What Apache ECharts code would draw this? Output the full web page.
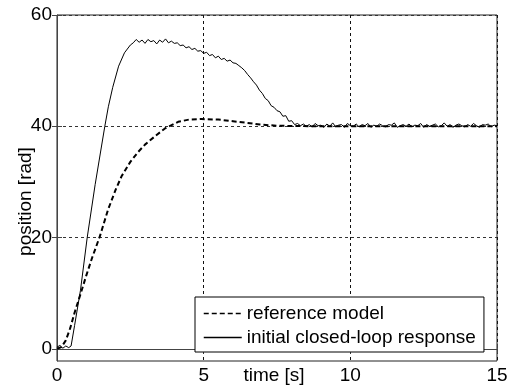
<!DOCTYPE html>
<html>
<head>
<meta charset="utf-8">
<script src="https://cdn.jsdelivr.net/npm/echarts@6/dist/echarts.min.js"></script>
<style>html,body{margin:0;padding:0;background:#fff;}#chart{width:511px;height:386px;}</style>
</head>
<body>
<div id="chart"></div>
<script>
// ---- data ----
const xTicks = [0, 5, 10, 15];
const yTicks = [0, 20, 40, 60];

const refTime = [0, 0.15, 0.3, 0.45, 0.6, 0.8, 1.0, 1.2, 1.46, 1.74, 2.0, 2.2, 2.5, 2.77, 3.0, 3.34, 3.68, 4.13, 4.5, 4.93, 5.5, 6.0, 6.5, 6.92, 7.5, 8.0, 9.0, 10.0, 11.0, 12.0, 13.0, 14.0, 15.0];
const refValue = [0, 0.3, 1.5, 3.7, 6.5, 9.8, 13.2, 16.4, 20.2, 25.0, 28.6, 31.0, 33.6, 35.4, 36.7, 38.2, 39.6, 40.8, 41.2, 41.3, 41.2, 40.9, 40.6, 40.3, 40.1, 40.05, 40, 40, 40, 40, 40, 40, 40];

const loopTime = [0, 0.1, 0.2, 0.3, 0.4, 0.48, 0.6, 0.8, 1.03, 1.3, 1.63, 1.75, 1.9, 2.1, 2.3, 2.5,
  2.6, 2.7, 2.8, 2.9, 3.0, 3.1, 3.2, 3.3, 3.4, 3.5, 3.6, 3.7, 3.8, 3.9, 4.0,
  4.1, 4.2, 4.3, 4.4, 4.5, 4.6, 4.7, 4.8, 4.9, 5.0, 5.1, 5.2, 5.3, 5.4, 5.5, 5.6, 5.7, 5.8, 5.9,
  6.0, 6.1, 6.2, 6.3, 6.4, 6.5, 6.6, 6.7, 6.8, 6.9, 7.0, 7.1, 7.2, 7.3, 7.4, 7.5, 7.6, 7.7, 7.8, 7.9,
  8.0, 8.1, 8.2, 8.3, 8.4, 8.5, 8.6, 8.7, 8.8, 8.9, 9.0, 9.1, 9.2, 9.3, 9.4, 9.5, 9.6, 9.7, 9.8, 9.9,
  10.0, 10.1, 10.2, 10.3, 10.4, 10.5, 10.6, 10.7, 10.8, 10.9, 11.0, 11.1, 11.2, 11.3, 11.4, 11.5, 11.6, 11.7, 11.8, 11.9,
  12.0, 12.1, 12.2, 12.3, 12.4, 12.5, 12.6, 12.7, 12.8, 12.9, 13.0, 13.1, 13.2, 13.3, 13.4, 13.5, 13.6, 13.7, 13.8, 13.9,
  14.0, 14.1, 14.2, 14.3, 14.4, 14.5, 14.6, 14.7, 14.8, 14.9, 15.0];
const loopValue = [0.3, 0.6, 0.1, 0.5, 0.2, 0.5, 4.2, 10.5, 20.0, 29.5, 40.0, 43.5, 47.0, 50.8, 53.2, 54.6,
  55.0, 55.6, 55.1, 55.5, 54.9, 55.6, 55.2, 55.4, 54.8, 55.5, 55.1, 55.7, 55.0, 55.3, 54.9,
  55.0, 54.5, 54.6, 54.1, 54.3, 53.8, 54.0, 53.5, 53.6, 53.1, 53.3, 52.7, 52.9, 52.3, 52.6, 52.0, 52.2, 51.7, 51.9,
  51.4, 51.3, 50.9, 50.5, 50.0, 49.3, 48.7, 48.0, 47.4, 46.5, 45.9, 45.0, 44.6, 43.7, 43.4, 42.8, 42.6, 41.8, 41.9, 40.9,
  41.0, 40.3, 40.5, 40.1, 40.4, 40.0, 40.3, 39.9, 40.5, 40.1, 40.2, 39.8, 40.4, 40.0, 40.6, 39.9, 40.2, 40.3, 39.8, 40.5,
  40.1, 40.0, 40.4, 39.9, 40.3, 40.1, 40.5, 39.8, 40.2, 40.0, 40.4, 40.1, 39.9, 40.3, 40.2, 40.6, 39.8, 40.1, 40.3, 40.0,
  40.4, 39.9, 40.2, 40.1, 40.5, 39.8, 40.3, 40.0, 40.2, 40.4, 39.9, 40.1, 40.6, 40.0, 40.3, 39.8, 40.2, 40.4, 40.1, 39.9,
  40.3, 40.0, 40.5, 40.1, 39.8, 40.3, 40.2, 40.4, 39.9, 40.2, 40.1];

const seriesNames = ['reference model', 'initial closed-loop response'];
const axisTitles = { x: 'time [s]', y: 'position [rad]' };

// ---- chart ----
const FONT = 'Liberation Sans, Arial, sans-serif';
const AX = '#444';
const chart = echarts.init(document.getElementById('chart'), null, { renderer: 'canvas' });
const pairs = (ts, vs) => ts.map((t, i) => [t, vs[i]]);

chart.setOption({
  animation: false,
  backgroundColor: '#fff',
  grid: { left: 57, right: 14, top: 15, bottom: 25, outerBoundsMode: 'none', containLabel: false,
    show: true, borderColor: '#222', borderWidth: 1, backgroundColor: 'transparent' },
  xAxis: [{
    type: 'value', min: xTicks[0], max: xTicks[xTicks.length - 1], interval: 5,
    axisLine: { lineStyle: { color: AX, width: 1 } },
    axisTick: { inside: true, length: 5, lineStyle: { color: AX } },
    axisLabel: { color: '#000', fontSize: 19, fontFamily: FONT, margin: 5 },
    splitLine: { show: true, lineStyle: { color: '#111', type: [3, 3], width: 1 } },
    name: axisTitles.x, nameLocation: 'middle', nameGap: 5, nameMoveOverlap: false,
    nameTextStyle: { color: '#000', fontSize: 19, fontFamily: FONT, padding: [0, 6, 0, 0] }
  }, {
    type: 'value', position: 'top', min: 0, max: 15, interval: 5,
    axisLine: { show: false }, axisTick: { inside: true, length: 5, lineStyle: { color: AX } },
    axisLabel: { show: false }, splitLine: { show: false }
  }],
  yAxis: [{
    type: 'value', min: -2.2, max: 60,
    axisLine: { show: true, lineStyle: { color: AX, width: 1 } },
    axisTick: { show: true, inside: true, length: 5, customValues: yTicks, lineStyle: { color: AX } },
    axisLabel: { color: '#000', fontSize: 19, fontFamily: FONT, margin: 5, customValues: yTicks },
    splitLine: { show: true, lineStyle: { color: '#333', type: [3, 3], width: 1 } },
    name: axisTitles.y, nameLocation: 'middle', nameGap: 22, nameRotate: 90, nameMoveOverlap: false,
    nameTextStyle: { color: '#000', fontSize: 19, fontFamily: FONT, padding: [0, 27, 0, 0] }
  }, {
    type: 'value', position: 'right', min: -2.2, max: 60,
    axisLine: { show: false },
    axisTick: { show: true, inside: true, length: 5, customValues: yTicks, lineStyle: { color: AX } },
    axisLabel: { show: false, customValues: yTicks }, splitLine: { show: false }
  }],
  legend: {
    orient: 'vertical', left: 195, top: 297,
    data: seriesNames,
    itemWidth: 38, itemHeight: 10, itemGap: 5,
    padding: [7, 8, 5, 8],
    backgroundColor: '#fff', borderColor: '#000', borderWidth: 1, borderRadius: 0,
    itemStyle: { opacity: 0 },
    lineStyle: { width: 1.5 },
    textStyle: { color: '#000', fontSize: 19, fontFamily: FONT },
    z: 10
  },
  series: [{
    name: seriesNames[0], type: 'line', data: pairs(refTime, refValue),
    showSymbol: false, symbol: 'none', smooth: false,
    lineStyle: { color: '#000', width: 2, type: [5, 3] },
    itemStyle: { color: '#000' }, z: 3
  }, {
    name: seriesNames[1], type: 'line', data: pairs(loopTime, loopValue),
    showSymbol: false, symbol: 'none', smooth: false,
    lineStyle: { color: '#000', width: 1 },
    itemStyle: { color: '#000' }, z: 4
  }]
});
</script>
</body>
</html>
